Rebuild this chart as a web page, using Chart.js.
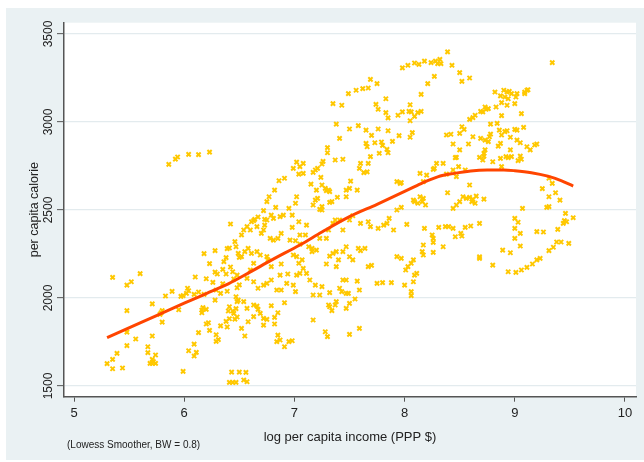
<!DOCTYPE html>
<html><head><meta charset="utf-8">
<script src="https://cdn.jsdelivr.net/npm/chart.js@4.4.1/dist/chart.umd.min.js"></script>
<style>html,body{margin:0;padding:0;background:#fff;}canvas{display:block;}</style>
</head><body>
<canvas id="c" width="644" height="462"></canvas>
<script>
const xTicks = [5, 6, 7, 8, 9, 10];
const yTicks = [1500, 2000, 2500, 3000, 3500];
const xTitle = 'log per capita income (PPP $)';
const yTitle = 'per capita calorie';
const noteText = '(Lowess Smoother, BW = 0.8)';

// observations [log income, calories]
const obsLow = [[5.86,2759],[5.92,2789],[5.94,2801],[6.04,2816],[6.13,2814],[6.23,2829],
[6.28,2269],[6.18,2252],[6.23,2195],[6.28,2147],[6.30,2136],[6.26,2089],[6.20,2109],[6.29,2045],[6.28,1988],[6.39,2280],[6.41,2284],[6.42,2420],[6.38,2229],[6.36,2206],[6.35,2162],[6.38,2136],[6.35,2081],[6.33,2026],[6.39,2038],[6.18,2020],[6.13,2034],[6.10,2119],[6.09,2020],[6.04,2041],[6.03,2055],[6.02,2026],[5.99,2013],[5.97,2009],[5.95,1933],[5.89,2037],[5.83,2011],[5.80,1928],[5.79,1916],[5.80,1863],[5.78,1907],[5.71,1966],[5.60,2138],[5.52,2092],[5.48,2073],[5.35,2117],[5.48,1928],[5.48,1806],[5.48,1729],[5.56,1767],[5.71,1784],[5.67,1723],[5.67,1689],[5.74,1676],[5.71,1651],[5.72,1638],[5.69,1628],[5.74,1628],[5.71,1628],[5.39,1685],[5.35,1651],[5.30,1627],[5.35,1598],[5.44,1602],[5.99,1583],[6.04,1700],[6.09,1738],[6.11,1691],[6.09,1670],[6.13,1803],[6.16,1931],[6.17,1945],[6.16,1916],[6.20,1935],[6.22,1859],[6.20,1852],[6.23,1816],[6.29,1791],[6.31,1763],[6.29,1753],[6.33,1841],[6.38,1867],[6.39,1835],[6.40,1926],[6.41,1950],[6.44,1926],[6.45,1912],[6.47,1939],[6.48,1979],[6.47,2007],[6.49,1988],[6.48,1892],[6.46,1880],[6.41,1520],[6.44,1520],[6.47,1520],[6.43,1579],[6.50,1579],[6.41,1882],[6.46,2320],[6.47,2291],[6.49,2253],[6.50,2231],[6.42,2176],[6.44,2149],[6.45,2108],[6.48,2130],[6.50,2074],[6.48,2058]];

const obsMid = [[7.38,2988],[7.50,2960],[7.58,2979],[7.65,2954],[7.76,2960],[7.85,2950],[7.95,2922],[8.05,3007],[8.07,2939],[8.05,2913],[7.70,2924],[7.41,2907],[7.65,2878],[7.66,2859],[7.73,2882],[7.79,2886],[7.80,2867],[7.84,2844],[7.85,2825],[7.77,2822],[7.69,2803],[7.89,2890],[7.30,2854],[7.30,2825],[7.37,2784],[7.44,2788],[7.60,2765],[7.67,2765],[7.59,2736],[7.63,2712],[7.66,2716],[7.26,2776],[7.25,2761],[7.19,2727],[7.21,2736],[7.17,2714],[7.08,2765],[7.02,2772],[7.05,2746],[6.99,2736],[7.04,2704],[7.08,2708],[6.91,2680],[6.86,2666],[6.82,2613],[6.77,2575],[6.75,2547],[6.83,2515],[6.72,2496],[6.67,2460],[6.64,2447],[6.61,2433],[6.57,2405],[6.54,2386],[6.52,2358],
[7.15,2647],[7.24,2685],[7.25,2642],[7.28,2623],[7.29,2610],[7.31,2613],[7.32,2604],[7.20,2613],[7.21,2566],[7.19,2556],[7.17,2528],[7.25,2519],[7.23,2503],[7.25,2500],[7.32,2543],[7.34,2547],[7.39,2572],[7.47,2575],[7.51,2664],[7.50,2623],[7.57,2613],[7.47,2613],[7.02,2575],[7.01,2538],[6.95,2509],[6.98,2471],[6.90,2471],[6.87,2462],[6.81,2452],[6.79,2471],[6.75,2443],[6.73,2447],[6.63,2439],[6.60,2386],[6.66,2405],[6.72,2386],[6.73,2414],[6.70,2367],[6.78,2339],[6.81,2329],[6.85,2339],[6.88,2367],[6.98,2401],[7.04,2433],[7.11,2414],[7.10,2358],[7.05,2358],[6.96,2329],[7.01,2325],[7.05,2306],[7.13,2291],[7.16,2282],[7.16,2263],[7.20,2272],[7.23,2339],[7.29,2339],[7.31,2386],[7.35,2424],[7.37,2443],[7.41,2443],[7.44,2386],[7.50,2443],[7.53,2467],[7.60,2424],[7.67,2433],[7.69,2405],[7.76,2395],[7.81,2414],[7.84,2424],[7.86,2452],[7.90,2386],[7.93,2500],[7.97,2515],[8.02,2418],[8.08,2556],[8.09,2547],[8.12,2538],[7.93,2661],[7.96,2651],[7.97,2655],
[6.99,2244],[7.02,2235],[7.07,2216],[7.04,2197],[7.08,2168],[7.05,2140],[7.02,2130],[6.94,2136],[6.88,2193],[6.87,2130],[6.79,2178],[6.76,2216],[6.75,2235],[6.69,2244],[6.66,2263],[6.61,2253],[6.58,2282],[6.55,2263],[6.52,2235],[6.63,2197],[6.60,2159],[6.57,2111],[6.63,2092],[6.67,2055],[6.72,2073],[6.75,2083],[6.79,2102],[6.84,2045],[6.88,2045],[6.93,2083],[6.99,2073],[7.01,2036],[7.11,2140],[7.14,2102],[7.19,2073],[7.25,2064],[7.29,2193],[7.32,2238],[7.35,2253],[7.38,2263],[7.40,2216],[7.38,2178],[7.44,2263],[7.47,2291],[7.50,2234],[7.53,2216],[7.58,2282],[7.60,2269],[7.64,2282],[7.67,2178],[7.70,2185],[7.32,2030],[7.41,2055],[7.44,2102],[7.47,2102],[7.43,2036],[7.47,2026],[7.49,2026],[7.57,2096],[7.59,2045],[7.55,1994],[7.50,1969],[7.47,1941],[7.38,1979],[7.37,1960],[7.32,1950],[7.34,1928],[7.31,1960],[7.23,2017],[7.17,2017],[6.91,1973],[7.17,1875],[7.28,1808],[7.30,1780],[7.50,1793],[7.59,1827],[7.75,2083],[7.80,2087],[7.88,2087],[7.93,2235],[7.97,2225],[8.01,2159],[8.03,2178],[8.06,2197],[8.08,2216],[8.09,2130],[8.11,2140],[8.00,2073],[8.08,2092],[8.06,2036],[8.06,2013],
[6.54,1979],[6.57,1941],[6.63,1960],[6.66,1954],[6.67,1935],[6.69,1912],[6.72,1884],[6.75,1878],[6.79,1956],[6.82,1890],[6.82,1852],[6.85,1916],[6.72,1846],[6.63,1894],[6.58,1865],[6.55,1784],[6.52,1827],[6.85,1789],[6.84,1752],[6.87,1761],[6.91,1723],[6.95,1752],[6.98,1757],[6.56,1577],[6.57,1524],[6.54,1534]];

const obsHigh = [[8.38,2926],[8.42,2930],[8.44,2875],[8.50,2935],[8.52,2973],[8.54,2958],[8.62,2916],[8.58,2875],[8.69,2907],[8.73,2897],[8.76,2888],[8.77,2916],[8.78,2931],[8.78,2988],[8.84,2992],[8.86,2954],[8.88,2926],[8.91,2945],[8.93,2950],[8.96,2913],[9.00,2958],[9.02,2954],[9.08,2969],[9.02,2897],[9.05,2882],[9.11,2859],[9.14,2841],[9.18,2869],[9.20,2875],[8.87,2878],[8.85,2863],[8.96,2841],[8.97,2803],[8.94,2797],[8.92,2803],[9.05,2806],[9.06,2788],[9.03,2780],[8.87,2793],[8.88,2746],[8.80,2774],[8.73,2841],[8.72,2822],[8.72,2806],[8.68,2799],[8.71,2784],[8.46,2797],[8.47,2799],[8.50,2841],[8.49,2746],[8.55,2727],[8.44,2727],[8.35,2765],[8.29,2765],[8.27,2736],[8.26,2731],[8.20,2698],[8.14,2708],[8.17,2661],[8.47,2689],[8.38,2704],
[8.59,2642],[8.39,2598],[8.17,2566],[8.16,2547],[8.19,2528],[8.14,2575],[8.53,2575],[8.56,2566],[8.59,2572],[8.62,2560],[8.65,2579],[8.61,2547],[8.64,2538],[8.72,2562],[8.50,2547],[8.47,2528],[8.44,2509],
[8.18,2395],[8.31,2401],[8.37,2405],[8.40,2405],[8.44,2395],[8.46,2348],[8.51,2367],[8.52,2352],[8.55,2401],[8.60,2409],[8.68,2424],[8.25,2358],[8.26,2339],[8.26,2316],[8.35,2291],[8.17,2301],[8.16,2263],[8.17,2244],[8.26,2259],[8.68,2234],[8.68,2225],[8.80,2187],[8.89,2272],[8.96,2257],[9.00,2452],[9.03,2430],[9.00,2395],[9.05,2367],[9.00,2339],[9.05,2295],[9.07,2509],[8.94,2149],[9.01,2145],[9.06,2159],[9.11,2174],[9.16,2193],[9.20,2216],[9.23,2225],[9.31,2269],[9.35,2288],[9.38,2318],[9.42,2318],[9.49,2310],[9.39,2390],[9.20,2377],[9.26,2375],[9.46,2481],[9.45,2439],[9.44,2424],[9.47,2433],[9.53,2456],[9.25,2621],[9.31,2575],[9.37,2598],[9.41,2556],[9.29,2515],[9.31,2519],[9.31,2680],[9.34,2651]];

const obsTop = [[7.35,3104],[7.43,3095],[7.49,3161],[7.56,3180],[7.62,3189],[7.67,3193],[7.69,3242],[7.75,3218],[7.74,3100],[7.76,3072],[7.83,3132],[7.83,3053],[7.85,3023],[7.94,3038],[7.98,3057],[7.98,3307],[8.03,3322],[8.09,3335],[8.13,3327],[8.05,3098],[8.04,3060],[8.06,3057],[8.09,3032],[8.12,3053],
[8.18,3346],[8.24,3337],[8.28,3346],[8.30,3331],[8.32,3356],[8.33,3331],[8.39,3398],[8.43,3322],[8.50,3280],[8.52,3231],[8.59,3250],[8.27,3259],[8.21,3218],[8.15,3157],[8.15,3060],[9.34,3337],[8.82,3170],[8.87,3148],[8.90,3180],[8.91,3142],[8.93,3170],[8.95,3174],[8.97,3161],[9.02,3161],[9.01,3142],[8.94,3132],[8.88,3110],[8.93,3095],[9.00,3104],[9.09,3170],[9.11,3180],[9.12,3183],[9.09,3161],[8.83,3085],[8.76,3076],[8.74,3072],[8.73,3085],[8.71,3057],[8.69,3060],[8.64,3038],[8.62,3025],[8.59,3015],[8.88,3036],[9.06,3047]];

// lowess smoother
const lowessX = [5.30, 5.6, 6.0, 6.2, 6.4, 6.6, 6.8, 7.05, 7.25, 7.5, 7.75, 8.0, 8.15, 8.3, 8.45, 8.6, 8.75, 8.9, 9.0, 9.15, 9.3, 9.42, 9.53];
const lowessY = [1774, 1858, 1970, 2025, 2080, 2148, 2218, 2301, 2375, 2462, 2532, 2605, 2650, 2688, 2708, 2722, 2727, 2727, 2723, 2712, 2692, 2667, 2636];

const scatterPts = [...obsLow, ...obsMid, ...obsHigh, ...obsTop].map(p => ({x: p[0], y: p[1]}));
const lowessPts = lowessX.map((x, i) => ({x: x, y: lowessY[i]}));

Chart.defaults.font.family = '"Liberation Sans", Arial, sans-serif';
Chart.defaults.color = '#222';

const bgPlugin = {
  id: 'bg',
  beforeDraw(chart) {
    const {ctx, chartArea: a} = chart;
    ctx.save();
    ctx.fillStyle = '#ffffff';
    ctx.fillRect(0, 0, chart.width, chart.height);
    ctx.fillStyle = '#EAF1F3';
    ctx.fillRect(6, 8, chart.width - 6, 452);
    ctx.fillStyle = '#ffffff';
    ctx.fillRect(a.left, a.top, a.right - a.left, a.bottom - a.top);
    ctx.restore();
  },
  afterDraw(chart) {
    const ctx = chart.ctx;
    ctx.save();
    ctx.font = '10px "Liberation Sans", Arial, sans-serif';
    ctx.fillStyle = '#222';
    ctx.textBaseline = 'middle';
    ctx.textAlign = 'left';
    ctx.fillText(noteText, 67, 445);
    ctx.restore();
  }
};

new Chart(document.getElementById('c'), {
  type: 'scatter',
  data: {
    datasets: [
      {
        type: 'line',
        data: lowessPts,
        borderColor: '#FF4500',
        borderWidth: 3,
        pointRadius: 0,
        fill: false,
        tension: 0.4,
        cubicInterpolationMode: 'monotone',
        order: 0
      },
      {
        data: scatterPts,
        pointStyle: 'crossRot',
        pointRadius: 3,
        borderColor: '#FFC800',
        backgroundColor: '#FFC800',
        pointBorderWidth: 2,
        order: 1
      }
    ]
  },
  options: {
    responsive: false,
    animation: false,
    devicePixelRatio: 1,
    events: [],
    layout: {padding: {left: 0, right: 8, top: 22.7, bottom: 0}},
    plugins: {legend: {display: false}, tooltip: {enabled: false}},
    scales: {
      x: {
        type: 'linear',
        min: 4.909, max: 10.1,
        afterBuildTicks: s => { s.ticks = xTicks.map(v => ({value: v})); },
        afterFit: s => { s.height = 65.3; },
        grid: {drawOnChartArea: false, drawTicks: true, tickLength: 5, tickColor: '#555', tickWidth: 1},
        border: {display: true, color: '#555', width: 1.5},
        ticks: {font: {size: 13}, color: '#222', padding: 4, maxRotation: 0, callback: v => String(v)},
        title: {display: true, text: xTitle, font: {size: 13}, color: '#222', padding: {top: 0, bottom: 17}}
      },
      y: {
        type: 'linear',
        min: 1439, max: 3564,
        afterBuildTicks: s => { s.ticks = yTicks.map(v => ({value: v})); },
        afterFit: s => { s.width = 64; },
        grid: {color: '#E3EBEE', lineWidth: 1.3, drawTicks: true, tickLength: 7, tickColor: '#555', tickWidth: 1},
        border: {display: true, color: '#555', width: 1.5},
        ticks: {font: {size: 12}, color: '#222', minRotation: 90, maxRotation: 90, crossAlign: 'center', padding: -5.5, callback: v => String(v)},
        title: {display: true, text: yTitle, font: {size: 12.5}, color: '#222', padding: {top: 27, bottom: 0}}
      }
    }
  },
  plugins: [bgPlugin]
});
</script>
</body></html>
